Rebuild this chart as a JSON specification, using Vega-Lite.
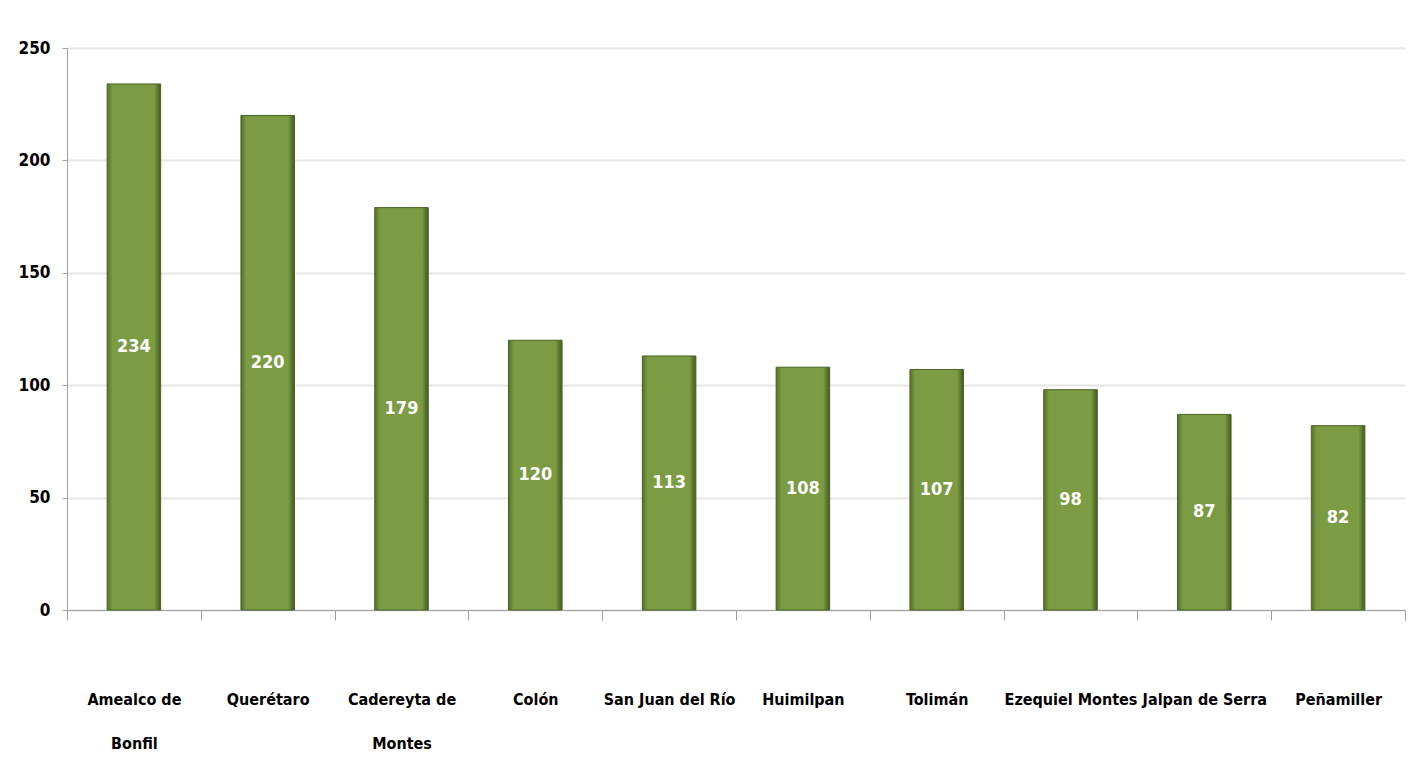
{
  "$schema": "https://vega.github.io/schema/vega-lite/v6.json",
  "width": 1338,
  "height": 562,
  "autosize": {"type": "none"},
  "padding": {"left": 67, "top": 48, "right": 23, "bottom": 173},
  "background": "white",
  "config": {
    "view": {"stroke": null},
    "font": "DejaVu Sans Condensed"
  },
  "data": {
    "values": [
      {"municipio": "Amealco de Bonfil", "valor": 234},
      {"municipio": "Querétaro", "valor": 220},
      {"municipio": "Cadereyta de Montes", "valor": 179},
      {"municipio": "Colón", "valor": 120},
      {"municipio": "San Juan del Río", "valor": 113},
      {"municipio": "Huimilpan", "valor": 108},
      {"municipio": "Tolimán", "valor": 107},
      {"municipio": "Ezequiel Montes", "valor": 98},
      {"municipio": "Jalpan de Serra", "valor": 87},
      {"municipio": "Peñamiller", "valor": 82}
    ]
  },
  "encoding": {
    "x": {
      "field": "municipio",
      "type": "nominal",
      "sort": null,
      "scale": {"paddingInner": 0, "paddingOuter": 0},
      "axis": {
        "title": null,
        "labelAngle": 0,
        "tickBand": "extent",
        "tickSize": 10,
        "tickColor": "#a0a0a0",
        "domainColor": "#a0a0a0",
        "labelFont": "DejaVu Sans Condensed",
        "labelFontSize": 16,
        "labelFontWeight": "bold",
        "labelColor": "black",
        "labelPadding": 71,
        "labelLineHeight": 44,
        "labelBaseline": "top",
        "labelExpr": "datum.value == 'Amealco de Bonfil' ? ['Amealco de', 'Bonfil'] : datum.value == 'Cadereyta de Montes' ? ['Cadereyta de', 'Montes'] : datum.value"
      }
    }
  },
  "layer": [
    {
      "mark": {
        "type": "bar",
        "width": {"band": 0.4},
        "stroke": "#4a6224",
        "strokeWidth": 1,
        "color": {
          "gradient": "linear",
          "x1": 0, "x2": 1, "y1": 0, "y2": 0,
          "stops": [
            {"offset": 0, "color": "#55702a"},
            {"offset": 0.1, "color": "#7b9c43"},
            {"offset": 0.88, "color": "#7b9c43"},
            {"offset": 1, "color": "#44591f"}
          ]
        }
      },
      "encoding": {
        "y": {
          "field": "valor",
          "type": "quantitative",
          "scale": {"domain": [0, 250], "nice": false},
          "axis": {
            "title": null,
            "values": [0, 50, 100, 150, 200, 250],
            "grid": true,
            "gridColor": "#e6e6e6",
            "gridWidth": 2,
            "tickSize": 5,
            "tickColor": "#a0a0a0",
            "domainColor": "#a0a0a0",
            "labelFont": "DejaVu Sans Condensed",
            "labelFontSize": 17,
            "labelFontWeight": "bold",
            "labelColor": "black",
            "labelPadding": 12
          }
        }
      }
    },
    {
      "transform": [{"calculate": "datum.valor / 2", "as": "mitad"}],
      "mark": {
        "type": "text",
        "color": "white",
        "fontSize": 18,
        "fontWeight": "bold",
        "font": "DejaVu Sans Condensed",
        "baseline": "middle",
        "align": "center"
      },
      "encoding": {
        "y": {"field": "mitad", "type": "quantitative", "scale": {"domain": [0, 250], "nice": false}},
        "text": {"field": "valor", "type": "quantitative"}
      }
    }
  ]
}
